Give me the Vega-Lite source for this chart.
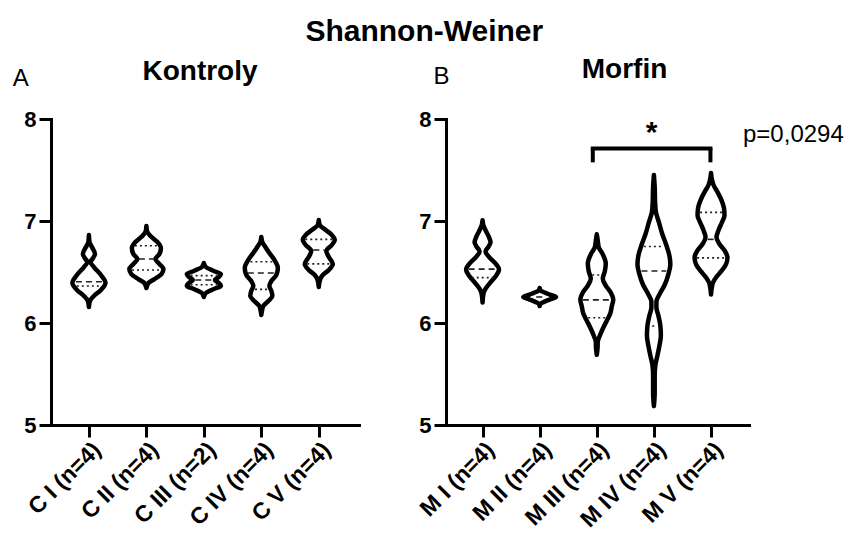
{
  "$schema": "https://vega.github.io/schema/vega-lite/v6.json",
  "background": "white",
  "padding": {"left": 12, "top": 17, "right": 0, "bottom": 0},
  "title": {"text": "Shannon-Weiner", "font": "Liberation Sans", "fontSize": 30, "fontWeight": "bold", "color": "black", "anchor": "middle", "offset": 9, "dx": -4},
  "config": {
    "view": {"stroke": null},
    "font": "Liberation Sans",
    "axis": {"domainColor": "black", "domainWidth": 3, "domainCap": "square", "tickColor": "black", "tickWidth": 3, "tickSize": 12, "labelFont": "Liberation Sans", "labelFontWeight": "bold", "labelColor": "black", "grid": false, "title": null, "labelOverlap": false, "labelBound": false},
    "axisY": {"labelFontSize": 22, "labelPadding": 3},
    "axisX": {"labelFontSize": 23, "labelAngle": -45, "labelPadding": 1},
    "title": {"font": "Liberation Sans", "fontSize": 28, "fontWeight": "bold", "color": "black"}
  },
  "datasets": {
    "violA": [
      {"g":"C I","y":6.863,"lo":1,"hi":1},
      {"g":"C I","y":6.794,"lo":0.990,"hi":1.010},
      {"g":"C I","y":6.745,"lo":0.948,"hi":1.052},
      {"g":"C I","y":6.676,"lo":0.895,"hi":1.105},
      {"g":"C I","y":6.627,"lo":0.939,"hi":1.061},
      {"g":"C I","y":6.598,"lo":0.974,"hi":1.026},
      {"g":"C I","y":6.549,"lo":0.913,"hi":1.087},
      {"g":"C I","y":6.471,"lo":0.791,"hi":1.209},
      {"g":"C I","y":6.392,"lo":0.712,"hi":1.288},
      {"g":"C I","y":6.324,"lo":0.791,"hi":1.209},
      {"g":"C I","y":6.265,"lo":0.913,"hi":1.087},
      {"g":"C I","y":6.216,"lo":0.983,"hi":1.017},
      {"g":"C I","y":6.157,"lo":1,"hi":1},
      {"g":"C II","y":6.951,"lo":2,"hi":2},
      {"g":"C II","y":6.902,"lo":1.990,"hi":2.010},
      {"g":"C II","y":6.853,"lo":1.930,"hi":2.070},
      {"g":"C II","y":6.794,"lo":1.808,"hi":2.192},
      {"g":"C II","y":6.735,"lo":1.747,"hi":2.253},
      {"g":"C II","y":6.676,"lo":1.773,"hi":2.227},
      {"g":"C II","y":6.627,"lo":1.843,"hi":2.157},
      {"g":"C II","y":6.578,"lo":1.773,"hi":2.227},
      {"g":"C II","y":6.529,"lo":1.703,"hi":2.297},
      {"g":"C II","y":6.480,"lo":1.738,"hi":2.262},
      {"g":"C II","y":6.431,"lo":1.860,"hi":2.140},
      {"g":"C II","y":6.392,"lo":1.965,"hi":2.035},
      {"g":"C II","y":6.343,"lo":2,"hi":2},
      {"g":"C III","y":6.588,"lo":3,"hi":3},
      {"g":"C III","y":6.549,"lo":2.965,"hi":3.035},
      {"g":"C III","y":6.510,"lo":2.825,"hi":3.175},
      {"g":"C III","y":6.480,"lo":2.703,"hi":3.297},
      {"g":"C III","y":6.451,"lo":2.738,"hi":3.262},
      {"g":"C III","y":6.422,"lo":2.808,"hi":3.192},
      {"g":"C III","y":6.392,"lo":2.738,"hi":3.262},
      {"g":"C III","y":6.363,"lo":2.703,"hi":3.297},
      {"g":"C III","y":6.333,"lo":2.825,"hi":3.175},
      {"g":"C III","y":6.294,"lo":2.965,"hi":3.035},
      {"g":"C III","y":6.255,"lo":3,"hi":3},
      {"g":"C IV","y":6.843,"lo":4,"hi":4},
      {"g":"C IV","y":6.794,"lo":3.983,"hi":4.017},
      {"g":"C IV","y":6.745,"lo":3.930,"hi":4.070},
      {"g":"C IV","y":6.686,"lo":3.860,"hi":4.140},
      {"g":"C IV","y":6.618,"lo":3.773,"hi":4.227},
      {"g":"C IV","y":6.539,"lo":3.712,"hi":4.288},
      {"g":"C IV","y":6.471,"lo":3.738,"hi":4.262},
      {"g":"C IV","y":6.412,"lo":3.825,"hi":4.175},
      {"g":"C IV","y":6.363,"lo":3.860,"hi":4.140},
      {"g":"C IV","y":6.314,"lo":3.825,"hi":4.175},
      {"g":"C IV","y":6.265,"lo":3.808,"hi":4.192},
      {"g":"C IV","y":6.216,"lo":3.878,"hi":4.122},
      {"g":"C IV","y":6.167,"lo":3.965,"hi":4.035},
      {"g":"C IV","y":6.127,"lo":3.986,"hi":4.014},
      {"g":"C IV","y":6.078,"lo":4,"hi":4},
      {"g":"C V","y":7.010,"lo":5,"hi":5},
      {"g":"C V","y":6.961,"lo":4.983,"hi":5.017},
      {"g":"C V","y":6.912,"lo":4.878,"hi":5.122},
      {"g":"C V","y":6.863,"lo":4.773,"hi":5.227},
      {"g":"C V","y":6.814,"lo":4.721,"hi":5.279},
      {"g":"C V","y":6.765,"lo":4.773,"hi":5.227},
      {"g":"C V","y":6.706,"lo":4.869,"hi":5.131},
      {"g":"C V","y":6.647,"lo":4.825,"hi":5.175},
      {"g":"C V","y":6.578,"lo":4.756,"hi":5.244},
      {"g":"C V","y":6.520,"lo":4.825,"hi":5.175},
      {"g":"C V","y":6.471,"lo":4.930,"hi":5.070},
      {"g":"C V","y":6.431,"lo":4.974,"hi":5.026},
      {"g":"C V","y":6.353,"lo":5,"hi":5}
    ],
    "violB": [
      {"g":"M I","y":7.008,"lo":1,"hi":1},
      {"g":"M I","y":6.959,"lo":0.986,"hi":1.014},
      {"g":"M I","y":6.900,"lo":0.939,"hi":1.061},
      {"g":"M I","y":6.840,"lo":0.887,"hi":1.113},
      {"g":"M I","y":6.791,"lo":0.860,"hi":1.140},
      {"g":"M I","y":6.742,"lo":0.904,"hi":1.096},
      {"g":"M I","y":6.702,"lo":0.948,"hi":1.052},
      {"g":"M I","y":6.653,"lo":0.895,"hi":1.105},
      {"g":"M I","y":6.594,"lo":0.791,"hi":1.209},
      {"g":"M I","y":6.525,"lo":0.712,"hi":1.288},
      {"g":"M I","y":6.456,"lo":0.773,"hi":1.227},
      {"g":"M I","y":6.387,"lo":0.878,"hi":1.122},
      {"g":"M I","y":6.328,"lo":0.956,"hi":1.044},
      {"g":"M I","y":6.279,"lo":0.986,"hi":1.014},
      {"g":"M I","y":6.200,"lo":1,"hi":1},
      {"g":"M II","y":6.343,"lo":2,"hi":2},
      {"g":"M II","y":6.318,"lo":1.983,"hi":2.017},
      {"g":"M II","y":6.299,"lo":1.913,"hi":2.087},
      {"g":"M II","y":6.279,"lo":1.825,"hi":2.175},
      {"g":"M II","y":6.254,"lo":1.712,"hi":2.288},
      {"g":"M II","y":6.230,"lo":1.825,"hi":2.175},
      {"g":"M II","y":6.210,"lo":1.913,"hi":2.087},
      {"g":"M II","y":6.190,"lo":1.983,"hi":2.017},
      {"g":"M II","y":6.166,"lo":2,"hi":2},
      {"g":"M III","y":6.870,"lo":3,"hi":3},
      {"g":"M III","y":6.821,"lo":2.986,"hi":3.014},
      {"g":"M III","y":6.742,"lo":2.965,"hi":3.035},
      {"g":"M III","y":6.673,"lo":2.895,"hi":3.105},
      {"g":"M III","y":6.584,"lo":2.843,"hi":3.157},
      {"g":"M III","y":6.505,"lo":2.860,"hi":3.140},
      {"g":"M III","y":6.436,"lo":2.895,"hi":3.105},
      {"g":"M III","y":6.367,"lo":2.843,"hi":3.157},
      {"g":"M III","y":6.299,"lo":2.756,"hi":3.244},
      {"g":"M III","y":6.230,"lo":2.712,"hi":3.288},
      {"g":"M III","y":6.161,"lo":2.738,"hi":3.262},
      {"g":"M III","y":6.092,"lo":2.764,"hi":3.236},
      {"g":"M III","y":6.023,"lo":2.825,"hi":3.175},
      {"g":"M III","y":5.944,"lo":2.895,"hi":3.105},
      {"g":"M III","y":5.875,"lo":2.948,"hi":3.052},
      {"g":"M III","y":5.816,"lo":2.983,"hi":3.017},
      {"g":"M III","y":5.757,"lo":2.986,"hi":3.014},
      {"g":"M III","y":5.688,"lo":3,"hi":3},
      {"g":"M IV","y":7.451,"lo":4,"hi":4},
      {"g":"M IV","y":7.333,"lo":3.986,"hi":4.014},
      {"g":"M IV","y":7.185,"lo":3.979,"hi":4.021},
      {"g":"M IV","y":7.087,"lo":3.965,"hi":4.035},
      {"g":"M IV","y":6.988,"lo":3.913,"hi":4.087},
      {"g":"M IV","y":6.870,"lo":3.852,"hi":4.148},
      {"g":"M IV","y":6.762,"lo":3.782,"hi":4.218},
      {"g":"M IV","y":6.663,"lo":3.729,"hi":4.271},
      {"g":"M IV","y":6.574,"lo":3.712,"hi":4.288},
      {"g":"M IV","y":6.476,"lo":3.747,"hi":4.253},
      {"g":"M IV","y":6.377,"lo":3.808,"hi":4.192},
      {"g":"M IV","y":6.289,"lo":3.895,"hi":4.105},
      {"g":"M IV","y":6.210,"lo":3.956,"hi":4.044},
      {"g":"M IV","y":6.151,"lo":3.956,"hi":4.044},
      {"g":"M IV","y":6.072,"lo":3.921,"hi":4.079},
      {"g":"M IV","y":5.973,"lo":3.887,"hi":4.113},
      {"g":"M IV","y":5.875,"lo":3.878,"hi":4.122},
      {"g":"M IV","y":5.776,"lo":3.904,"hi":4.096},
      {"g":"M IV","y":5.678,"lo":3.939,"hi":4.061},
      {"g":"M IV","y":5.589,"lo":3.974,"hi":4.026},
      {"g":"M IV","y":5.481,"lo":3.986,"hi":4.014},
      {"g":"M IV","y":5.313,"lo":3.986,"hi":4.014},
      {"g":"M IV","y":5.185,"lo":4,"hi":4},
      {"g":"M V","y":7.471,"lo":5,"hi":5},
      {"g":"M V","y":7.412,"lo":4.986,"hi":5.014},
      {"g":"M V","y":7.353,"lo":4.956,"hi":5.044},
      {"g":"M V","y":7.284,"lo":4.887,"hi":5.113},
      {"g":"M V","y":7.205,"lo":4.817,"hi":5.183},
      {"g":"M V","y":7.126,"lo":4.773,"hi":5.227},
      {"g":"M V","y":7.057,"lo":4.764,"hi":5.236},
      {"g":"M V","y":6.988,"lo":4.808,"hi":5.192},
      {"g":"M V","y":6.909,"lo":4.869,"hi":5.131},
      {"g":"M V","y":6.840,"lo":4.904,"hi":5.096},
      {"g":"M V","y":6.781,"lo":4.860,"hi":5.140},
      {"g":"M V","y":6.712,"lo":4.764,"hi":5.236},
      {"g":"M V","y":6.643,"lo":4.712,"hi":5.288},
      {"g":"M V","y":6.574,"lo":4.738,"hi":5.262},
      {"g":"M V","y":6.505,"lo":4.825,"hi":5.175},
      {"g":"M V","y":6.446,"lo":4.913,"hi":5.087},
      {"g":"M V","y":6.397,"lo":4.965,"hi":5.035},
      {"g":"M V","y":6.348,"lo":4.986,"hi":5.014},
      {"g":"M V","y":6.279,"lo":5,"hi":5}
    ],
    "linesA": [
      {"g":"C I","k":"median","y":6.405,"lo":0.775,"hi":1.225},
      {"g":"C I","k":"quartile","y":6.363,"lo":0.79,"hi":1.21},
      {"g":"C II","k":"quartile","y":6.757,"lo":1.80,"hi":2.20},
      {"g":"C II","k":"median","y":6.627,"lo":1.87,"hi":2.13},
      {"g":"C II","k":"quartile","y":6.52,"lo":1.75,"hi":2.25},
      {"g":"C III","k":"quartile","y":6.464,"lo":2.77,"hi":3.23},
      {"g":"C III","k":"median","y":6.422,"lo":2.85,"hi":3.15},
      {"g":"C III","k":"quartile","y":6.375,"lo":2.77,"hi":3.23},
      {"g":"C IV","k":"quartile","y":6.601,"lo":3.81,"hi":4.19},
      {"g":"C IV","k":"median","y":6.49,"lo":3.765,"hi":4.235},
      {"g":"C IV","k":"quartile","y":6.33,"lo":3.89,"hi":4.11},
      {"g":"C V","k":"quartile","y":6.82,"lo":4.765,"hi":5.235},
      {"g":"C V","k":"median","y":6.716,"lo":4.905,"hi":5.095},
      {"g":"C V","k":"quartile","y":6.58,"lo":4.80,"hi":5.20}
    ],
    "linesB": [
      {"g":"M I","k":"median","y":6.528,"lo":0.756,"hi":1.244},
      {"g":"M I","k":"quartile","y":6.445,"lo":0.81,"hi":1.19},
      {"g":"M II","k":"median","y":6.255,"lo":1.94,"hi":2.06},
      {"g":"M III","k":"quartile","y":6.47,"lo":2.92,"hi":3.08},
      {"g":"M III","k":"median","y":6.227,"lo":2.756,"hi":3.244},
      {"g":"M III","k":"quartile","y":6.052,"lo":2.85,"hi":3.15},
      {"g":"M IV","k":"quartile","y":6.75,"lo":3.825,"hi":4.175},
      {"g":"M IV","k":"median","y":6.51,"lo":3.782,"hi":4.218},
      {"g":"M IV","k":"quartile","y":5.97,"lo":3.97,"hi":4.03},
      {"g":"M V","k":"quartile","y":7.085,"lo":4.808,"hi":5.192},
      {"g":"M V","k":"median","y":6.82,"lo":4.94,"hi":5.06},
      {"g":"M V","k":"quartile","y":6.638,"lo":4.756,"hi":5.244}
    ]
  },
  "spacing": 57,
  "hconcat": [
    {
      "width": 308,
      "height": 306,
      "title": {"text": "Kontroly", "anchor": "middle", "dx": -5, "offset": -19},
      "layer": [
        {
          "data": {"name": "violA"},
          "mark": {"type": "area", "orient": "horizontal", "interpolate": "monotone", "fillOpacity": 0, "stroke": "black", "strokeWidth": 4.5, "strokeJoin": "round", "strokeCap": "round"},
          "encoding": {
            "y": {"field": "y", "type": "quantitative", "scale": {"domain": [5, 8], "nice": false, "zero": false}, "axis": {"values": [5, 6, 7, 8], "format": "d"}},
            "x": {"field": "lo", "type": "quantitative", "scale": {"domain": [0.34, 5.7], "nice": false, "zero": false}, "axis": {"values": [1, 2, 3, 4, 5], "labelExpr": "['', 'C I (n=4)', 'C II (n=4)', 'C III (n=2)', 'C IV (n=4)', 'C V (n=4)'][datum.value]"}},
            "x2": {"field": "hi"},
            "detail": {"field": "g"}
          }
        },
        {
          "data": {"name": "linesA"},
          "mark": {"type": "rule", "color": "#222", "strokeWidth": 1.6},
          "encoding": {
            "y": {"field": "y", "type": "quantitative"},
            "x": {"field": "lo", "type": "quantitative"},
            "x2": {"field": "hi"},
            "strokeDash": {"field": "k", "type": "nominal", "scale": {"domain": ["median", "quartile"], "range": [[6, 4], [2, 3]]}, "legend": null}
          }
        },
        {
          "data": {"values": [{"t": "A"}]},
          "mark": {"type": "text", "font": "Liberation Sans", "fontSize": 24, "fontWeight": "normal", "align": "left", "baseline": "alphabetic", "color": "black", "clip": false},
          "encoding": {
            "text": {"field": "t"},
            "x": {"datum": -0.325},
            "y": {"datum": 8.32}
          }
        }
      ]
    },
    {
      "width": 303,
      "height": 306,
      "title": {"text": "Morfin", "anchor": "middle", "dx": 27, "offset": -19},
      "layer": [
        {
          "data": {"name": "violB"},
          "mark": {"type": "area", "orient": "horizontal", "interpolate": "monotone", "fillOpacity": 0, "stroke": "black", "strokeWidth": 4.5, "strokeJoin": "round", "strokeCap": "round"},
          "encoding": {
            "y": {"field": "y", "type": "quantitative", "scale": {"domain": [5, 8], "nice": false, "zero": false}, "axis": {"values": [5, 6, 7, 8], "format": "d"}},
            "x": {"field": "lo", "type": "quantitative", "scale": {"domain": [0.36, 5.665], "nice": false, "zero": false}, "axis": {"values": [1, 2, 3, 4, 5], "labelExpr": "['', 'M I (n=4)', 'M II (n=4)', 'M III (n=4)', 'M IV (n=4)', 'M V (n=4)'][datum.value]"}},
            "x2": {"field": "hi"},
            "detail": {"field": "g"}
          }
        },
        {
          "data": {"name": "linesB"},
          "mark": {"type": "rule", "color": "#222", "strokeWidth": 1.6},
          "encoding": {
            "y": {"field": "y", "type": "quantitative"},
            "x": {"field": "lo", "type": "quantitative"},
            "x2": {"field": "hi"},
            "strokeDash": {"field": "k", "type": "nominal", "scale": {"domain": ["median", "quartile"], "range": [[6, 4], [2, 3]]}, "legend": null}
          }
        },
        {
          "data": {"values": [{}]},
          "mark": {"type": "rule", "color": "black", "strokeWidth": 4, "strokeCap": "square"},
          "encoding": {"x": {"datum": 2.93}, "x2": {"datum": 4.99}, "y": {"datum": 7.71}}
        },
        {
          "data": {"values": [{}]},
          "mark": {"type": "rule", "color": "black", "strokeWidth": 4},
          "encoding": {"x": {"datum": 2.93}, "y": {"datum": 7.575}, "y2": {"datum": 7.71}}
        },
        {
          "data": {"values": [{}]},
          "mark": {"type": "rule", "color": "black", "strokeWidth": 4},
          "encoding": {"x": {"datum": 4.99}, "y": {"datum": 7.575}, "y2": {"datum": 7.71}}
        },
        {
          "data": {"values": [{"t": "*"}]},
          "mark": {"type": "text", "font": "Liberation Sans", "fontSize": 30, "fontWeight": "bold", "align": "center", "baseline": "alphabetic", "color": "black"},
          "encoding": {"text": {"field": "t"}, "x": {"datum": 3.96}, "y": {"datum": 7.777}}
        },
        {
          "data": {"values": [{"t": "p=0,0294"}]},
          "mark": {"type": "text", "font": "Liberation Sans", "fontSize": 24, "fontWeight": "normal", "align": "left", "baseline": "alphabetic", "color": "black", "clip": false},
          "encoding": {"text": {"field": "t"}, "x": {"datum": 5.56}, "y": {"datum": 7.776}}
        },
        {
          "data": {"values": [{"t": "B"}]},
          "mark": {"type": "text", "font": "Liberation Sans", "fontSize": 24, "fontWeight": "normal", "align": "left", "baseline": "alphabetic", "color": "black", "clip": false},
          "encoding": {"text": {"field": "t"}, "x": {"datum": 0.14}, "y": {"datum": 8.34}}
        }
      ]
    }
  ]
}
